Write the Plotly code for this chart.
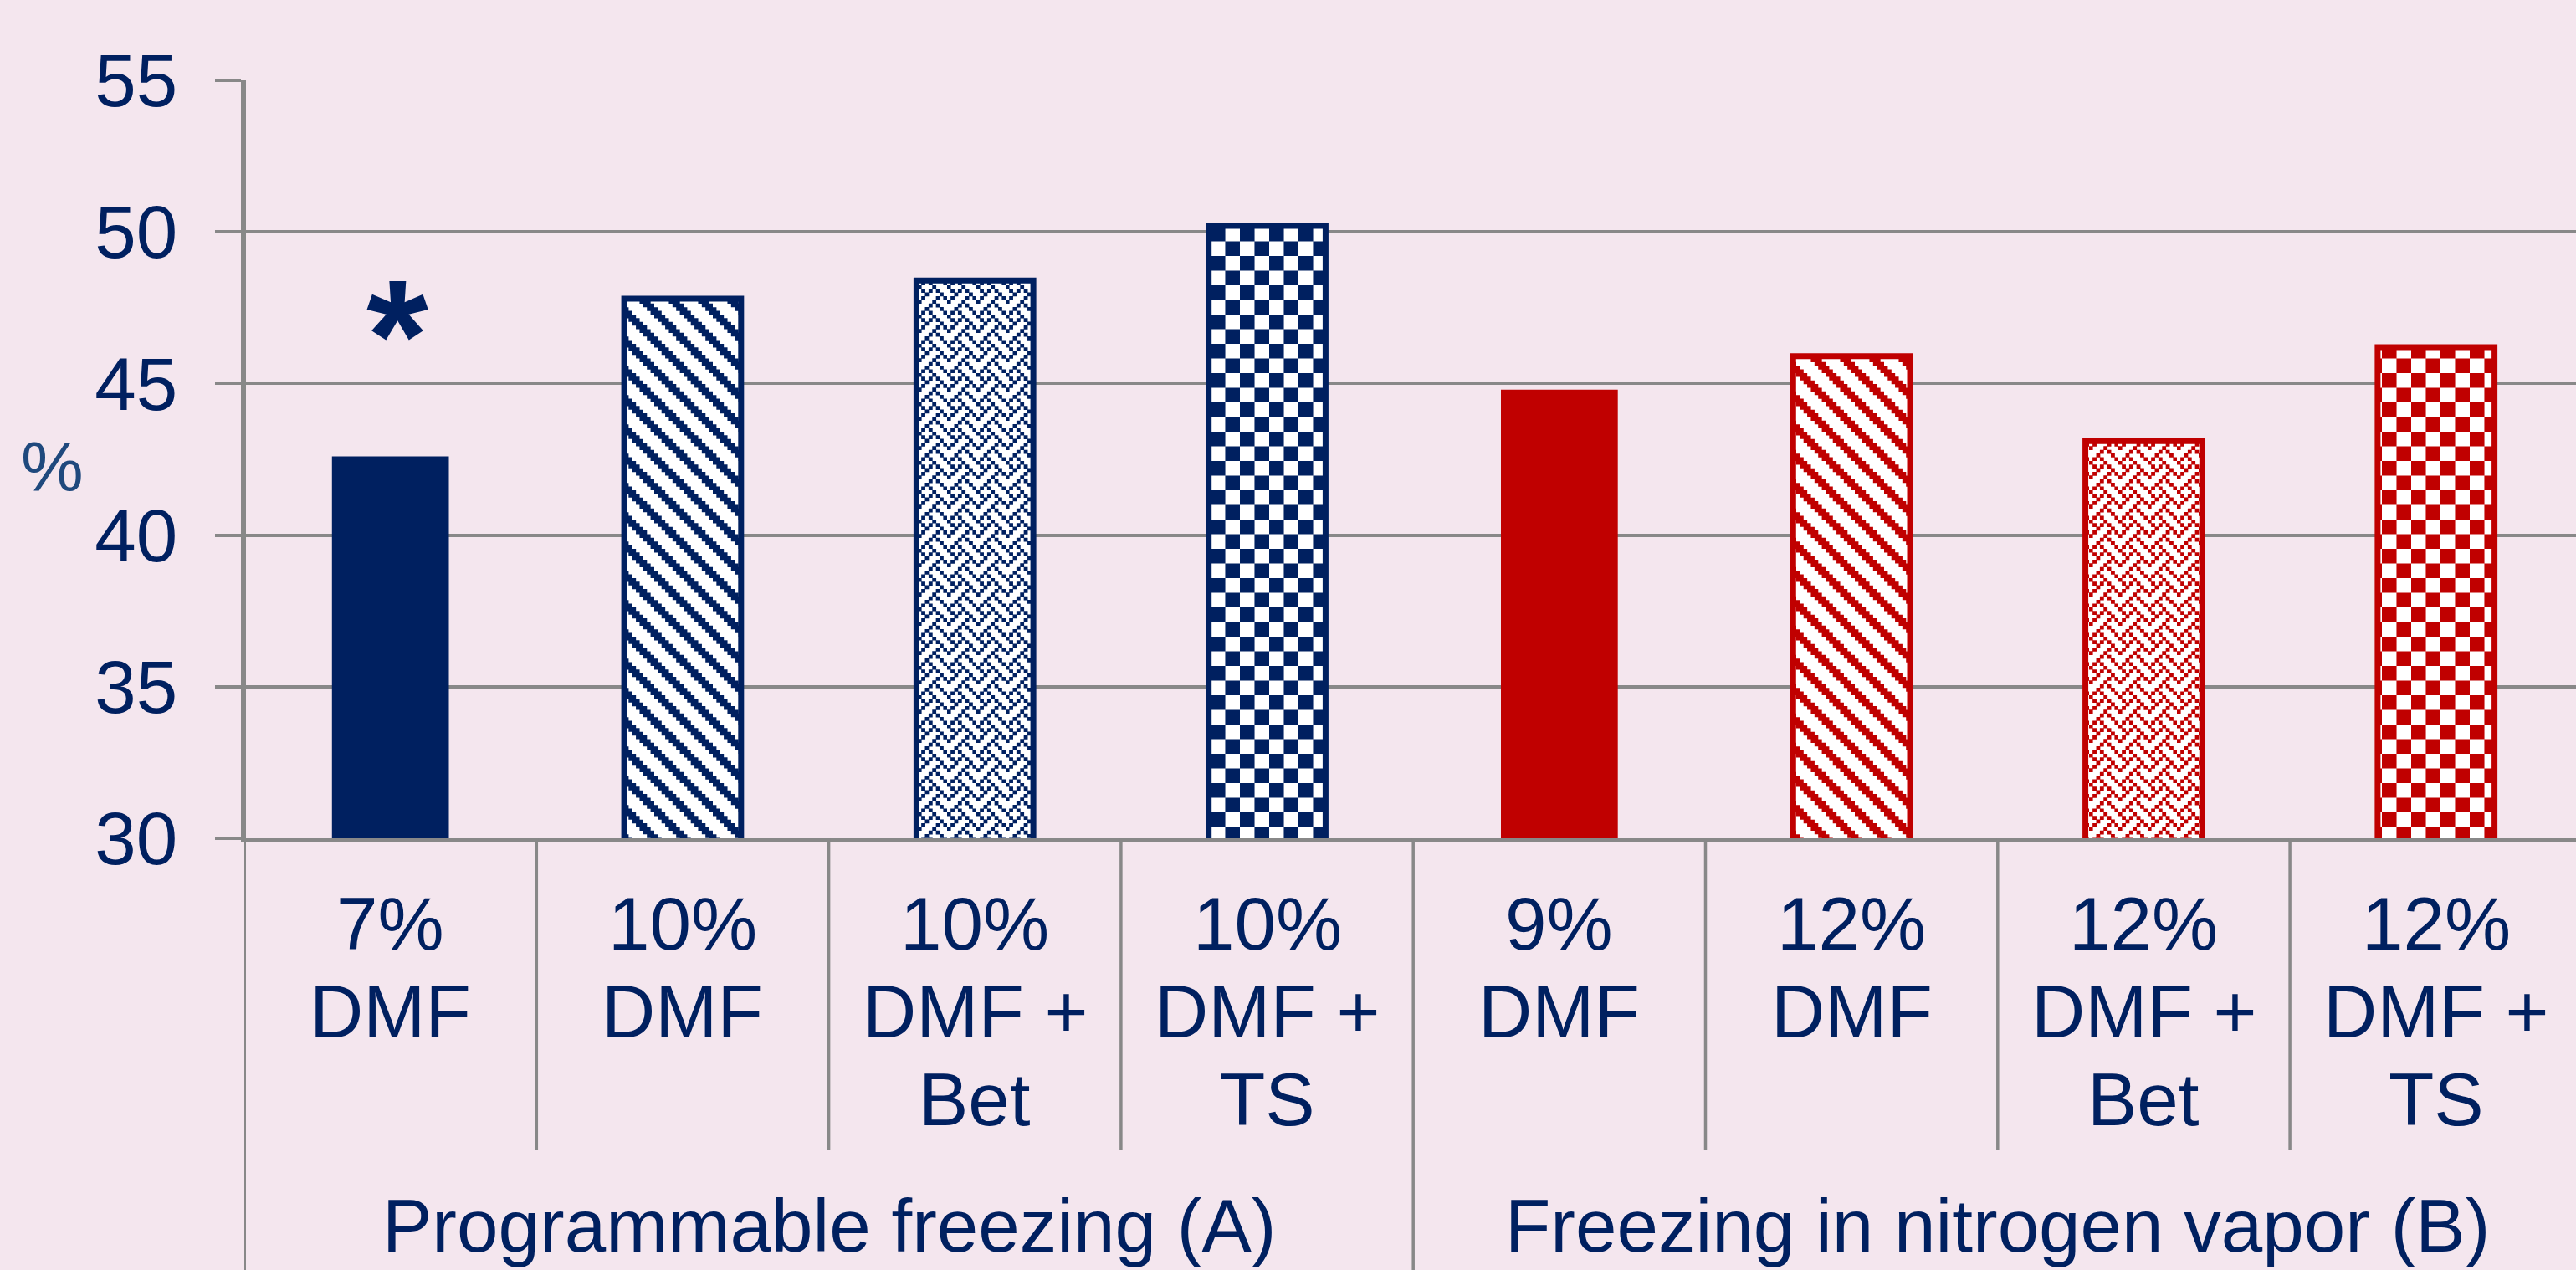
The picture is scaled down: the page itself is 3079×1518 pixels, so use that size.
import plotly.graph_objects as go

# ---------------- data ----------------
categories = ["7%<br>DMF", "10%<br>DMF", "10%<br>DMF +<br>Bet", "10%<br>DMF +<br>TS",
              "9%<br>DMF", "12%<br>DMF", "12%<br>DMF +<br>Bet", "12%<br>DMF +<br>TS"]
groups = ["Programmable freezing (A)", "Freezing in nitrogen vapor (B)"]
group_sizes = [4, 4]
values = [42.6, 47.8, 48.4, 50.2, 44.8, 45.9, 43.1, 46.2]
fills = ["solid", "stripes", "weave", "checker", "solid", "stripes", "weave", "checker"]
y_ticks = [30, 35, 40, 45, 50, 55]
significance = ["*", "", "", "", "", "", "", ""]
y_title = "%"

# ---------------- style ----------------
BG = "#F4E6EE"
NAVY = "#002060"
RED = "#C00000"
GRID = "#888888"
FONT = "Liberation Sans"
FS = 89
W, H = 3079, 1518
ML, MT, MB = 292, 96, 516
PLOT_H = H - MT - MB
CAT_W = 349.3
group_colors = [NAVY, RED]

# custom bitmap patterns (8x8 cells scaled to tile size)
TILE = 35.0
def bitmap_path(rows, grow=1.0):
    px = TILE / 8
    s = px * grow
    off = (s - px) / 2
    parts = []
    for r, bits in enumerate(rows):
        for c in range(8):
            if bits & (0x80 >> c):
                x0, y0 = c * px - off, r * px - off
                parts.append(f"M{x0:.3f},{y0:.3f}h{s:.3f}v{s:.3f}h{-s:.3f}Z")
    return "".join(parts)

PATHS = {
    "stripes": bitmap_path([0xE0, 0x70, 0x38, 0x1C, 0x0E, 0x07, 0x83, 0xC1], grow=1.02),
    "weave": bitmap_path([0x88, 0x54, 0x22, 0x45, 0x88, 0x14, 0x22, 0x51], grow=1.1),
    "checker": bitmap_path([0xF0, 0xF0, 0xF0, 0xF0, 0x0F, 0x0F, 0x0F, 0x0F], grow=1.02),
}

def pix_to_paper(py):
    return (H - MB - py) / PLOT_H

fig = go.Figure()

color_of = []
for g, n in enumerate(group_sizes):
    color_of += [group_colors[g]] * n

for i, (v, f) in enumerate(zip(values, fills)):
    col = color_of[i]
    if f == "solid":
        marker = dict(color=col, line=dict(width=0))
    else:
        pat = dict(path=PATHS[f], size=TILE, fgcolor=col, bgcolor="white",
                   fillmode="replace")
        marker = dict(color="white", pattern=pat, line=dict(color=col, width=7))
    fig.add_trace(go.Bar(x=[i], y=[v], width=0.4, marker=marker,
                         showlegend=False, hoverinfo="skip"))

x_max = -0.5 + (W - ML) / CAT_W

fig.update_layout(
    width=W, height=H,
    margin=dict(l=ML, r=0, t=MT, b=MB, pad=0),
    paper_bgcolor=BG, plot_bgcolor=BG,
    barmode="overlay",
    font=dict(family=FONT, size=FS, color=NAVY),
    xaxis=dict(range=[-0.5, x_max], showgrid=False, showticklabels=False,
               zeroline=False, showline=True, linecolor=GRID, linewidth=4,
               ticks=""),
    yaxis=dict(range=[30, 55], tickvals=y_ticks, showgrid=True, gridcolor=GRID,
               gridwidth=4, zeroline=False, showline=True, linecolor=GRID,
               linewidth=4, ticks="outside", ticklen=31, tickwidth=4,
               tickcolor=GRID, tickfont=dict(family=FONT, size=FS, color=NAVY),
               ticklabelstandoff=27),
)

shapes = []
# left axis line extended to bottom
shapes.append(dict(type="line", xref="x", yref="paper", x0=-0.5, x1=-0.5,
                   y0=1, y1=pix_to_paper(H + 20), line=dict(color=GRID, width=4)))
# category separators
start = 0
for g, n in enumerate(group_sizes):
    for k in range(1, n):
        xb = start + k - 0.5
        shapes.append(dict(type="line", xref="x", yref="paper", x0=xb, x1=xb,
                           y0=0, y1=pix_to_paper(1374), line=dict(color=GRID, width=3.5)))
    start += n
    if g < len(group_sizes) - 1:
        xb = start - 0.5
        shapes.append(dict(type="line", xref="x", yref="paper", x0=xb, x1=xb,
                           y0=0, y1=pix_to_paper(H + 20), line=dict(color=GRID, width=3.5)))
fig.update_layout(shapes=shapes)

annotations = []
LINE0, LINE_STEP = 1104, 105
for i, cat in enumerate(categories):
    for k, line in enumerate(cat.split("<br>")):
        annotations.append(dict(x=i, xref="x", y=pix_to_paper(LINE0 + LINE_STEP * k),
                                yref="paper", text=line, showarrow=False,
                                xanchor="center", yanchor="middle",
                                font=dict(family=FONT, size=FS, color=NAVY)))
start = 0
for g, n in zip(groups, group_sizes):
    annotations.append(dict(x=start + (n - 1) / 2, xref="x", y=pix_to_paper(1518),
                            yref="paper", text=g, showarrow=False,
                            xanchor="center", yanchor="bottom", yshift=1,
                            font=dict(family=FONT, size=FS, color=NAVY)))
    start += n
for i, s in enumerate(significance):
    if s:
        annotations.append(dict(x=i, xref="x", y=values[i], yref="y", text=f"<b>{s}</b>",
                                showarrow=False, xanchor="center", yanchor="bottom",
                                xshift=8, yshift=37,
                                font=dict(family=FONT, size=190, color=NAVY)))
annotations.append(dict(x=(62 - ML) / (W - ML), xref="paper", y=pix_to_paper(558),
                        yref="paper", text=y_title, showarrow=False,
                        xanchor="center", yanchor="middle",
                        font=dict(family=FONT, size=84, color="#1F497D")))
fig.update_layout(annotations=annotations)

fig.write_html("out.html", config={"displayModeBar": False},
               post_script="document.body.style.margin='0';document.body.style.padding='0';")
